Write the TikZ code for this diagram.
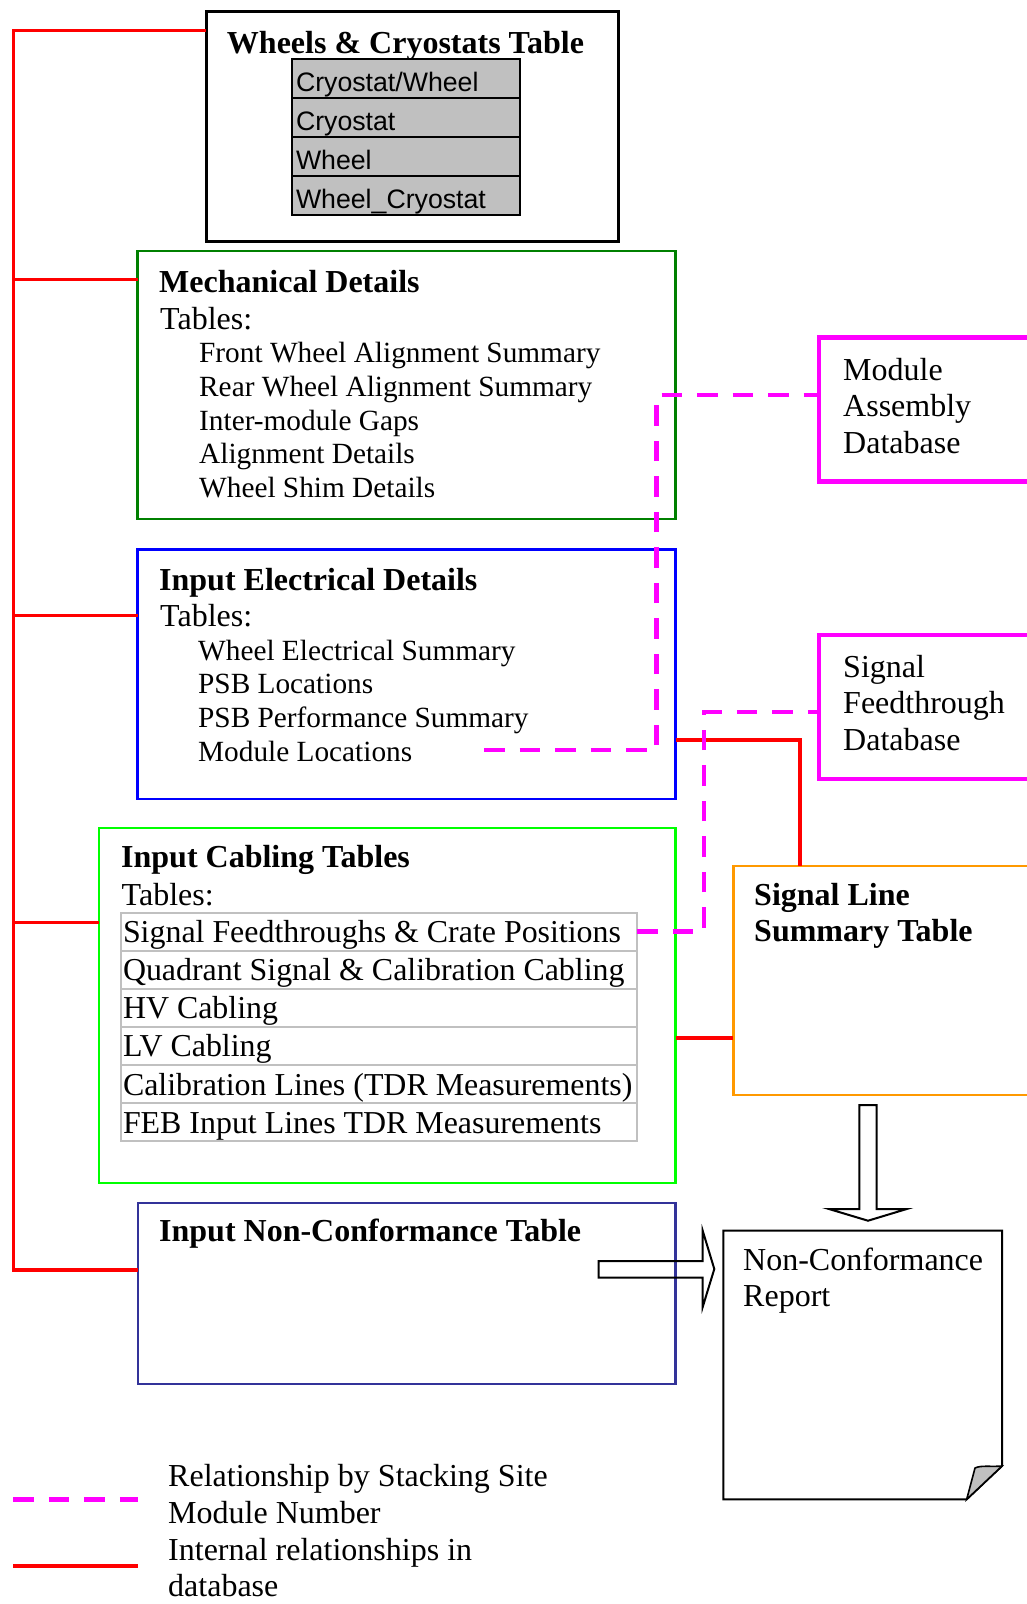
\documentclass[tikz,border=0pt]{standalone}
\usepackage{fontspec}
\setmainfont{Liberation Serif}
\setsansfont{Liberation Sans}
\usetikzlibrary{positioning}

\definecolor{mechgreen}{HTML}{008000}
\definecolor{cabgreen}{HTML}{00FF00}
\definecolor{ncnavy}{HTML}{333399}
\definecolor{dbmagenta}{HTML}{FF00FF}
\definecolor{sigorange}{HTML}{FF9900}
\definecolor{cellgray}{HTML}{C0C0C0}

\newcommand{\fbig}{\fontsize{32}{37}\selectfont}
\newcommand{\fsmall}{\fontsize{29.3}{34}\selectfont}
\newcommand{\fcab}{\fontsize{31.9}{36}\selectfont}
\newcommand{\fcell}{\fontsize{26.7}{30}\selectfont}
\newcommand{\wcell}[1]{\makebox[220pt][l]{#1}}
\newcommand{\ccell}[1]{\makebox[511.5pt][l]{#1}}

\begin{document}
\begin{tikzpicture}[x=1pt, y=-1pt,
	box/.style={draw, anchor=north west, inner sep=0pt, outer sep=0pt},
	txt/.style={anchor=base west, inner sep=0pt, font=\fbig},
	itm/.style={anchor=base west, inner sep=0pt, font=\fsmall},
	ttl/.style={anchor=base west, inner sep=0pt, font=\fbig\bfseries},
	wrow/.style={draw, line width=2.3pt, fill=cellgray, anchor=north west, outer sep=0pt,
		inner xsep=4pt, inner ysep=0pt, text height=32.5pt, text depth=6.5pt, font=\sffamily\fcell},
	cabrow/.style={draw=cellgray, line width=2pt, anchor=north west, outer sep=0pt,
		inner xsep=2.5pt, inner ysep=0pt, text height=30.1pt, text depth=8pt, font=\fcab},
	relline/.style={red, line width=3.3pt},
	stackline/.style={dbmagenta, line width=4.7pt, dash pattern=on 20.5pt off 15pt}]

	\useasboundingbox (0,0) rectangle (1026,1604);

	% boxes
	\node[box, line width=3pt, minimum width=412pt, minimum height=230pt] (wheels) at (206,11) {};
	\node[box, draw=mechgreen, line width=2.2pt, minimum width=538pt, minimum height=268pt] (mech) at (137.5,251) {};
	\node[box, draw=blue, line width=2.7pt, minimum width=538pt, minimum height=249.5pt] (elec) at (137.5,549.5) {};
	\node[box, draw=cabgreen, line width=2.5pt, minimum width=576.5pt, minimum height=355pt] (cab) at (99,828) {};
	\node[box, draw=ncnavy, line width=2.5pt, minimum width=537.5pt, minimum height=181pt] (nc) at (138,1203) {};
	\node[box, draw=dbmagenta, line width=4.7pt, minimum width=230pt, minimum height=144pt] (modasm) at (819,337.7) {};
	\node[box, draw=dbmagenta, line width=4.7pt, minimum width=230pt, minimum height=144pt] (sigft) at (819,635) {};
	\node[box, draw=sigorange, line width=2.7pt, minimum width=300pt, minimum height=229pt] (sigline) at (733.3,866) {};

	% wheels & cryostats
	\node[ttl, anchor=base] (wheelst) at (405.5,53) {Wheels \& Cryostats Table};
	\node[wrow] (w1) at (292,59) {\wcell{Cryostat/Wheel}};
	\node[wrow, below=0pt of w1] (w2) {\wcell{Cryostat}};
	\node[wrow, below=0pt of w2] (w3) {\wcell{Wheel}};
	\node[wrow, below=0pt of w3] (w4) {\wcell{Wheel\_Cryostat}};

	% mechanical
	\node[ttl] (mecht) at (159,292) {Mechanical Details};
	\node[txt] (mechtab) at (160,329.3) {Tables:};
	\node[itm] (m1) at (199,362) {Front Wheel Alignment Summary};
	\node[itm] (m2) at (199,396) {Rear Wheel Alignment Summary};
	\node[itm] (m3) at (199,430) {Inter-module Gaps};
	\node[itm] (m4) at (199,463.5) {Alignment Details};
	\node[itm] (m5) at (199,497.5) {Wheel Shim Details};

	% electrical
	\node[ttl] (elect) at (159,590) {Input Electrical Details};
	\node[txt] (electab) at (160,626) {Tables:};
	\node[itm] (e1) at (198,660) {Wheel Electrical Summary};
	\node[itm] (e2) at (198,693.5) {PSB Locations};
	\node[itm] (e3) at (198,727.5) {PSB Performance Summary};
	\node[itm] (e4) at (198,761) {Module Locations};

	% cabling
	\node[ttl] (cabt) at (121,867.7) {Input Cabling Tables};
	\node[txt] (cabtab) at (121.5,905) {Tables:};
	\node[cabrow] (c1) at (120.5,912.5) {\ccell{Signal Feedthroughs \& Crate Positions}};
	\node[cabrow, below=0pt of c1] (c2) {\ccell{Quadrant Signal \& Calibration Cabling}};
	\node[cabrow, below=0pt of c2] (c3) {\ccell{HV Cabling}};
	\node[cabrow, below=0pt of c3] (c4) {\ccell{LV Cabling}};
	\node[cabrow, below=0pt of c4] (c5) {\ccell{Calibration Lines (TDR Measurements)}};
	\node[cabrow, below=0pt of c5] (c6) {\ccell{FEB Input Lines TDR Measurements}};

	% non-conformance, databases, signal line
	\node[ttl] (nct) at (159,1241) {Input Non-Conformance Table};
	\node[txt] (ma1) at (843,380) {Module};
	\node[txt] (ma2) at (843,416.5) {Assembly};
	\node[txt] (ma3) at (843,453) {Database};
	\node[txt] (sf1) at (843,677) {Signal};
	\node[txt] (sf2) at (843,713.5) {Feedthrough};
	\node[txt] (sf3) at (843,750.5) {Database};
	\node[ttl] (sl1) at (754,905) {Signal Line};
	\node[ttl] (sl2) at (754,941.7) {Summary Table};

	% report sheet
	\draw[line width=2pt, line join=miter] (723.3,1230.7) -- (1002,1230.7) -- (1002,1466)
		-- (966.7,1499.3) -- (723.3,1499.3) -- cycle;
	\draw[line width=1.6pt, fill=cellgray] (966.7,1499.3) -- (975,1468)
		.. controls (981,1465) and (991,1467) .. (1002,1466) -- cycle;
	\node[txt] (rep1) at (743,1270) {Non-Conformance};
	\node[txt] (rep2) at (743,1306.7) {Report};

	% block arrows
	\draw[line width=2pt, fill=white] (859.3,1105) -- (876.7,1105) -- (876.7,1209) -- (906.7,1209)
		-- (868,1220.7) -- (829,1209) -- (859.3,1209) -- cycle;
	\draw[line width=2pt] (598.7,1261) -- (702.7,1261) -- (702.7,1230.7) -- (714.3,1269)
		-- (702.7,1307) -- (702.7,1277.7) -- (598.7,1277.7) -- cycle;

	% internal relationships
	\coordinate (bustop) at (13.3,30.7);
	\coordinate (busmech) at (13.3,279.5);
	\coordinate (buselec) at (13.3,615.7);
	\coordinate (buscab) at (13.3,922.7);
	\coordinate (busnc) at (13.3,1270);
	\draw[relline] (wheels.west |- bustop) -- (bustop) -- (busnc) -- (busnc -| nc.west);
	\draw[relline] (busmech) -- (busmech -| mech.west);
	\draw[relline] (buselec) -- (buselec -| elec.west);
	\draw[relline] (buscab) -- (buscab -| cab.west);
	\coordinate (elecsig) at (800,740);
	\draw[relline] (elecsig -| elec.east) -- (elecsig) -- (elecsig |- sigline.north);
	\coordinate (cabsig) at (675.5,1038);
	\draw[relline] (cabsig) -- (cabsig -| sigline.west);

	% stacking site relationships
	\coordinate (mlend) at (484,750);
	\coordinate (mabend) at (656.7,395);
	\draw[stackline] (mlend) -| (mabend) -- (mabend -| modasm.west);
	\coordinate (sfbend) at (704,712);
	\draw[stackline] (c1.east) -| (sfbend) -- (sfbend -| sigft.west);

	% legend
	\coordinate (lgdash) at (13.3,1499.5);
	\coordinate (lgline) at (13.3,1566);
	\draw[stackline] (lgdash) -- ++(125,0);
	\draw[relline] (lgline) -- ++(125,0);
	\node[txt] (lg1) at (168,1486.7) {Relationship by Stacking Site};
	\node[txt] (lg2) at (168,1523.3) {Module Number};
	\node[txt] (lg3) at (168,1560) {Internal relationships in};
	\node[txt] (lg4) at (168,1596.7) {database};
\end{tikzpicture}
\end{document}
